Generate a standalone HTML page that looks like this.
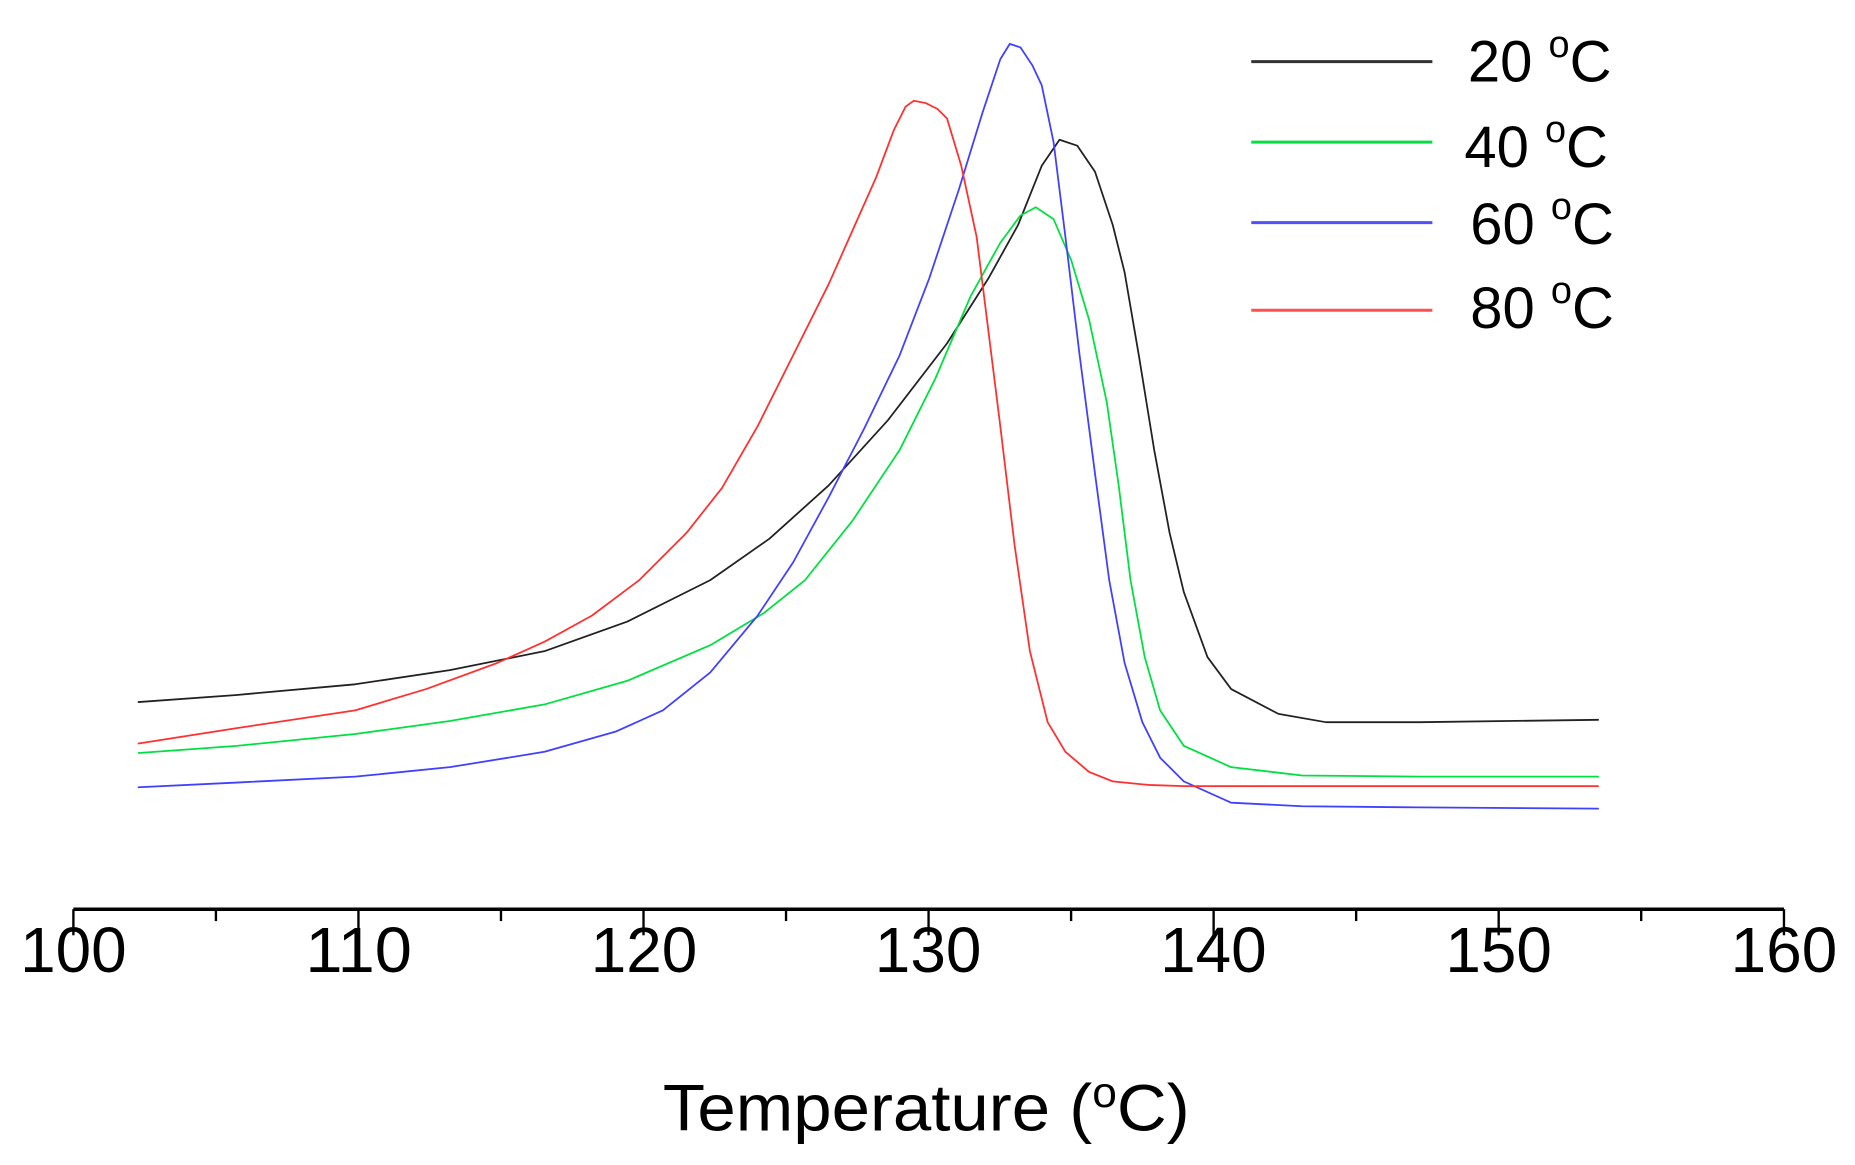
<!DOCTYPE html>
<html><head><meta charset="utf-8"><style>
html,body{margin:0;padding:0;background:#fff;}
svg{display:block;}
text{font-family:"Liberation Sans",Arial,sans-serif;fill:#000;}
</style></head><body>
<svg width="1855" height="1165" viewBox="0 0 1567 984" xmlns="http://www.w3.org/2000/svg">
<rect width="1567" height="984" fill="#fff"/>
<g fill="none" stroke-width="1.5" stroke-linejoin="round" stroke-linecap="round">
<polyline stroke="#222" points="117,593 200,587 300,578 380,566 460,550 530,525 600,490 650,455 700,410 750,355 800,290 835,235 860,190 880,140 895,118 910,123 925,145 940,190 950,230 962,300 975,380 988,450 1000,500 1020,555 1040,582 1080,603 1120,610 1200,610 1350,608"/>
<polyline stroke="#00e040" points="117,636 200,630 300,620 380,609 460,595 530,575 600,545 645,518 680,490 720,440 760,380 790,320 820,250 845,205 862,182 875,175 890,185 905,220 920,270 935,340 945,410 955,490 967,555 980,600 1000,630 1040,648 1100,655 1200,656 1350,656"/>
<polyline stroke="#4040ff" points="117,665 200,661 300,656 380,648 460,635 520,618 560,600 600,568 640,520 670,475 700,420 730,362 760,300 785,235 810,160 830,95 845,50 853,37 862,40 872,55 880,72 890,120 900,200 912,300 925,400 937,490 950,560 965,610 980,640 1000,660 1040,678 1100,681 1200,682 1350,683"/>
<polyline stroke="#ff3030" points="117,628 200,615 300,600 360,582 420,560 460,542 500,520 540,490 580,450 610,412 640,360 670,300 700,240 720,195 740,150 755,110 765,90 772,85 782,87 792,92 800,100 812,140 825,200 835,280 845,360 857,460 870,550 885,610 900,635 920,652 940,660 970,663 1000,664 1200,664 1350,664"/>
</g>
<g stroke="#000" stroke-width="2">
<line x1="62" y1="768" x2="1507" y2="768" stroke-width="3"/>
<line x1="62" y1="768" x2="62" y2="790"/>
<line x1="182.4" y1="768" x2="182.4" y2="778"/>
<line x1="302.8" y1="768" x2="302.8" y2="790"/>
<line x1="423.2" y1="768" x2="423.2" y2="778"/>
<line x1="543.6" y1="768" x2="543.6" y2="790"/>
<line x1="664" y1="768" x2="664" y2="778"/>
<line x1="784.4" y1="768" x2="784.4" y2="790"/>
<line x1="904.8" y1="768" x2="904.8" y2="778"/>
<line x1="1025.2" y1="768" x2="1025.2" y2="790"/>
<line x1="1145.6" y1="768" x2="1145.6" y2="778"/>
<line x1="1266" y1="768" x2="1266" y2="790"/>
<line x1="1386.4" y1="768" x2="1386.4" y2="778"/>
<line x1="1507" y1="768" x2="1507" y2="790"/>
</g>
<g font-size="54">
<text x="17" y="821" textLength="90" lengthAdjust="spacingAndGlyphs">100</text>
<text x="258" y="821" textLength="90" lengthAdjust="spacingAndGlyphs">110</text>
<text x="499" y="821" textLength="90" lengthAdjust="spacingAndGlyphs">120</text>
<text x="739" y="821" textLength="90" lengthAdjust="spacingAndGlyphs">130</text>
<text x="980" y="821" textLength="90" lengthAdjust="spacingAndGlyphs">140</text>
<text x="1221" y="821" textLength="90" lengthAdjust="spacingAndGlyphs">150</text>
<text x="1462" y="821" textLength="90" lengthAdjust="spacingAndGlyphs">160</text>
</g>
<text x="560" y="955" font-size="56" textLength="445" lengthAdjust="spacingAndGlyphs">Temperature (<tspan font-size="36" dy="-20">o</tspan><tspan dy="20">C)</tspan></text>
<g stroke-width="2.5">
<line x1="1057" y1="52" x2="1210" y2="52" stroke="#333"/>
<line x1="1057" y1="120" x2="1210" y2="120" stroke="#00e040"/>
<line x1="1057" y1="188" x2="1210" y2="188" stroke="#5050ff"/>
<line x1="1057" y1="262" x2="1210" y2="262" stroke="#ff5050"/>
</g>
<g font-size="49">
<text x="1240" y="69">20 <tspan font-size="32" dy="-21">o</tspan><tspan dy="21">C</tspan></text>
<text x="1237" y="141">40 <tspan font-size="32" dy="-21">o</tspan><tspan dy="21">C</tspan></text>
<text x="1242" y="206">60 <tspan font-size="32" dy="-21">o</tspan><tspan dy="21">C</tspan></text>
<text x="1242" y="277">80 <tspan font-size="32" dy="-21">o</tspan><tspan dy="21">C</tspan></text>
</g>
</svg>
</body></html>
